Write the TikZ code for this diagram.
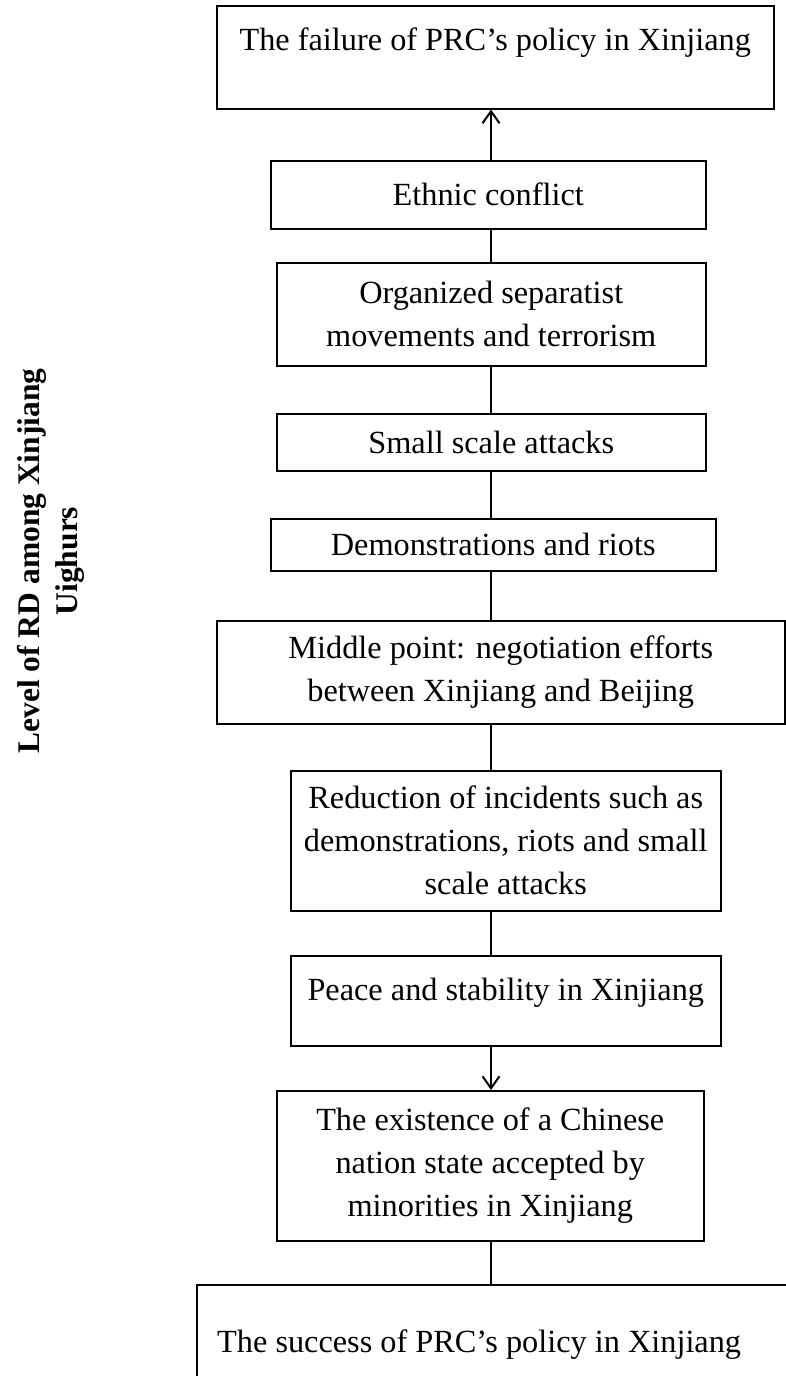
\documentclass[tikz,border=0pt]{standalone}
\usepackage{fontspec}
\setmainfont{Liberation Serif}
\usetikzlibrary{arrows.meta}
\begin{document}
\begin{tikzpicture}[x=1pt,y=-1pt,
  bx/.style={draw, line width=1.5pt, anchor=north west, inner sep=0pt, align=center,
    font=\fontsize{32.3}{43}\selectfont},
  txt/.style={inner sep=0pt, font=\fontsize{32.3}{43}\selectfont},
  conn/.style={line width=1.5pt},
  arr/.style={line width=1.8pt, -{Straight Barb[length=12pt,width=17pt,line width=2pt]}},
  lbl/.style={rotate=90, align=center, inner sep=0pt, font=\fontsize{31.5}{38}\selectfont\bfseries}]
\useasboundingbox (0,0) rectangle (786,1376);
\coordinate (cx) at (491,0);
% boxes
\node[bx, minimum width=557pt, minimum height=103pt] (top) at (216,5) {};
\node[txt, anchor=base] (toptxt) at ([yshift=-45pt]top.north) {The failure of PRC’s policy in Xinjiang};
\node[bx, minimum width=435pt, minimum height=68pt] (ethnic) at (270,160) {Ethnic conflict};
\node[bx, minimum width=429pt, minimum height=103pt] (org) at (276,262) {Organized separatist\\movements and terrorism};
\node[bx, minimum width=429pt, minimum height=57pt] (small) at (276,413) {Small scale attacks};
\node[bx, minimum width=445pt, minimum height=52pt] (demo) at (270,518) {Demonstrations and riots};
\node[bx, minimum width=568pt, minimum height=103pt] (mid) at (216,620) {Middle point: negotiation efforts\\between Xinjiang and Beijing};
\node[bx, minimum width=430pt, minimum height=140pt] (red) at (290,770) {Reduction of incidents such as\\demonstrations, riots and small\\scale attacks};
\node[bx, minimum width=430pt, minimum height=90pt] (peace) at (290,955) {};
\node[txt, anchor=base] (peacetxt) at ([yshift=-45pt]peace.north) {Peace and stability in Xinjiang};
\node[bx, minimum width=427pt, minimum height=150pt] (exist) at (276,1090) {The existence of a Chinese\\nation state accepted by\\minorities in Xinjiang};
\node[bx, minimum width=700pt, minimum height=200pt] (bottom) at (196,1284) {};
\node[txt, anchor=base west] (bottomtxt) at (217,1352) {The success of PRC’s policy in Xinjiang};
% side label
\node[lbl] (side) at (51,561) {Level of RD among Xinjiang\\Uighurs};
% connectors
\draw[arr] (ethnic.north -| cx) -- (top.south -| cx);
\draw[conn] (ethnic.south -| cx) -- (org.north -| cx);
\draw[conn] (org.south -| cx) -- (small.north -| cx);
\draw[conn] (small.south -| cx) -- (demo.north -| cx);
\draw[conn] (demo.south -| cx) -- (mid.north -| cx);
\draw[conn] (mid.south -| cx) -- (red.north -| cx);
\draw[conn] (red.south -| cx) -- (peace.north -| cx);
\draw[arr] (peace.south -| cx) -- (exist.north -| cx);
\draw[conn] (exist.south -| cx) -- (bottom.north -| cx);
\end{tikzpicture}
\end{document}
